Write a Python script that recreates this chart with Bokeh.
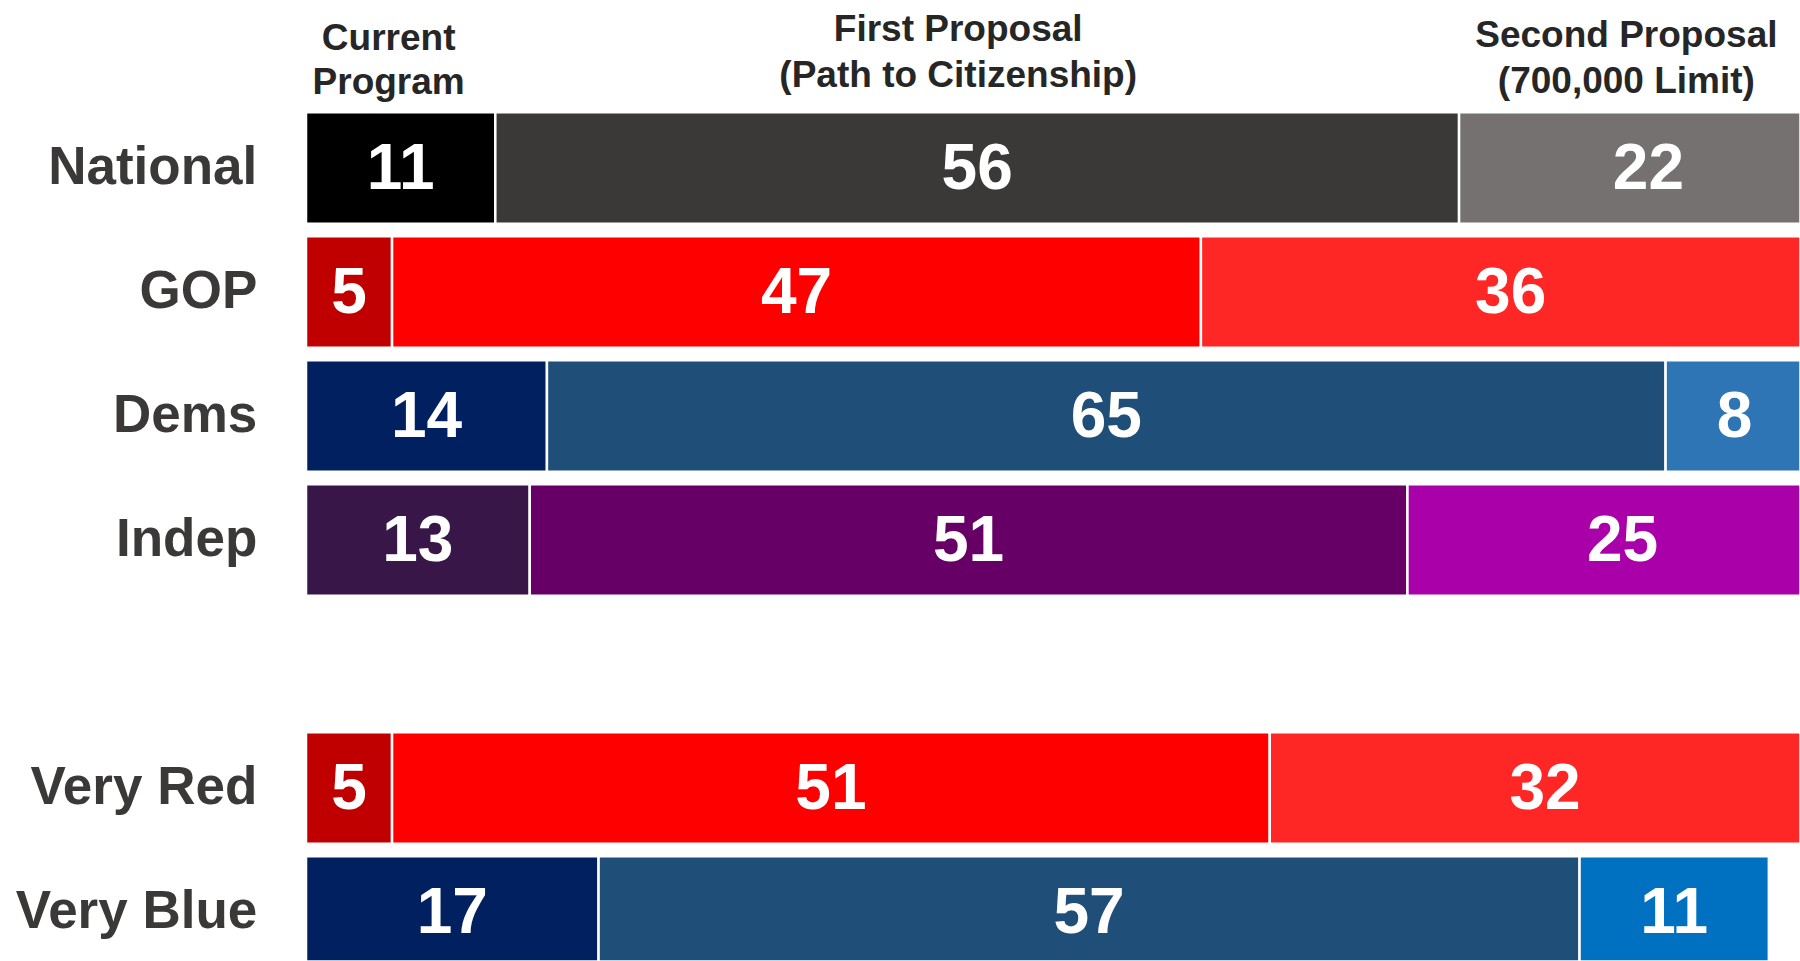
from bokeh.plotting import figure
from bokeh.models import ColumnDataSource, Range1d
from bokeh.core.properties import value
from bokeh.embed import file_html
from bokeh.resources import INLINE

# ---------------- data ----------------
categories = ["National", "GOP", "Dems", "Indep", "Very Red", "Very Blue"]
groups = ["Party", "Party", "Party", "Party", "District", "District"]
current_program = [11, 5, 14, 13, 5, 17]
first_proposal = [56, 47, 65, 51, 51, 57]
second_proposal = [22, 36, 8, 25, 32, 11]
series_headers = ["Current\nProgram",
                  "First Proposal\n(Path to Citizenship)",
                  "Second Proposal\n(700,000 Limit)"]

current_colors = ["#000000", "#c00000", "#002060", "#381748", "#c00000", "#002060"]
first_colors = ["#3b3938", "#ff0000", "#1f4e79", "#660066", "#ff0000", "#1f4e79"]
second_colors = ["#767171", "#ff2626", "#2e75b6", "#aa00aa", "#ff2626", "#0070c0"]

# ---------------- layout constants ----------------
W, H = 1800, 961
PX_PER_UNIT = 17.21      # horizontal pixels per percentage point
FRAME_LEFT = 305.5       # canvas x of value 0
ROW_PITCH = 124.0        # vertical pixels per row
TOP0 = 167.5             # canvas y of first row centre
FONT = value("Liberation Sans")

# row positions (extra empty row between groups)
ys = []
pos = 0
prev = groups[0]
for g in groups:
    if g != prev:
        pos += 1
    ys.append(pos)
    pos += 1
    prev = g

series = [current_program, first_proposal, second_proposal]
colors = [current_colors, first_colors, second_colors]

seg = dict(y=[], left=[], right=[], color=[], label=[], xc=[])
for i in range(len(categories)):
    start = 0
    for j in range(len(series)):
        v = series[j][i]
        seg["y"].append(ys[i])
        seg["left"].append(start)
        seg["right"].append(start + v)
        seg["color"].append(colors[j][i])
        seg["label"].append(str(v))
        seg["xc"].append(start + v / 2)
        start += v
src = ColumnDataSource(seg)

x_range = Range1d(-FRAME_LEFT / PX_PER_UNIT, (W - FRAME_LEFT) / PX_PER_UNIT)
y_range = Range1d((H - TOP0) / ROW_PITCH, -TOP0 / ROW_PITCH)

p = figure(width=W, height=H, x_range=x_range, y_range=y_range,
           output_backend="svg", toolbar_location=None,
           x_axis_type=None, y_axis_type=None,
           min_border=0, min_border_left=0, min_border_right=0,
           min_border_top=0, min_border_bottom=0)
p.grid.visible = False
p.outline_line_color = None
p.background_fill_color = "white"
p.border_fill_color = "white"

p.hbar(y="y", left="left", right="right", height=0.9, fill_color="color",
       line_color="white", line_width=2.5, source=src)

p.text(x="xc", y="y", text="label", source=src, text_align="center",
       text_baseline="middle", text_font=FONT, text_font_style="bold",
       text_font_size="64px", text_color="white", y_offset=-2)

# row labels
p.text(x=[-48.7 / PX_PER_UNIT] * len(categories), y=ys, text=categories,
       text_align="right", text_baseline="middle", text_font=FONT,
       text_font_style="bold", text_font_size="53px", text_color="#3b3838",
       y_offset=-3)

# series headers, placed over the first row's segments
hx, hy, ht, hoff = [], [], [], []
line_baselines = [[37, 81], [28, 74], [34, 80]]  # canvas px
header_shift = [-12, -19, -22]                    # px
start = 0
for j, h in enumerate(series_headers):
    v = series[j][0]
    c = start + v / 2
    start += v
    for k, line in enumerate(h.split("\n")):
        hx.append(c)
        hy.append((line_baselines[j][k] - TOP0) / ROW_PITCH)
        ht.append(line)
        hoff.append(header_shift[j])
hsrc = ColumnDataSource(dict(x=hx, y=hy, text=ht, xo=hoff))
p.text(x="x", y="y", text="text", x_offset="xo", source=hsrc,
       text_align="center", text_baseline="alphabetic",
       text_font=FONT, text_font_style="bold", text_font_size="37px",
       text_color="#262626")

open("out.html", "w").write(file_html(p, INLINE))
